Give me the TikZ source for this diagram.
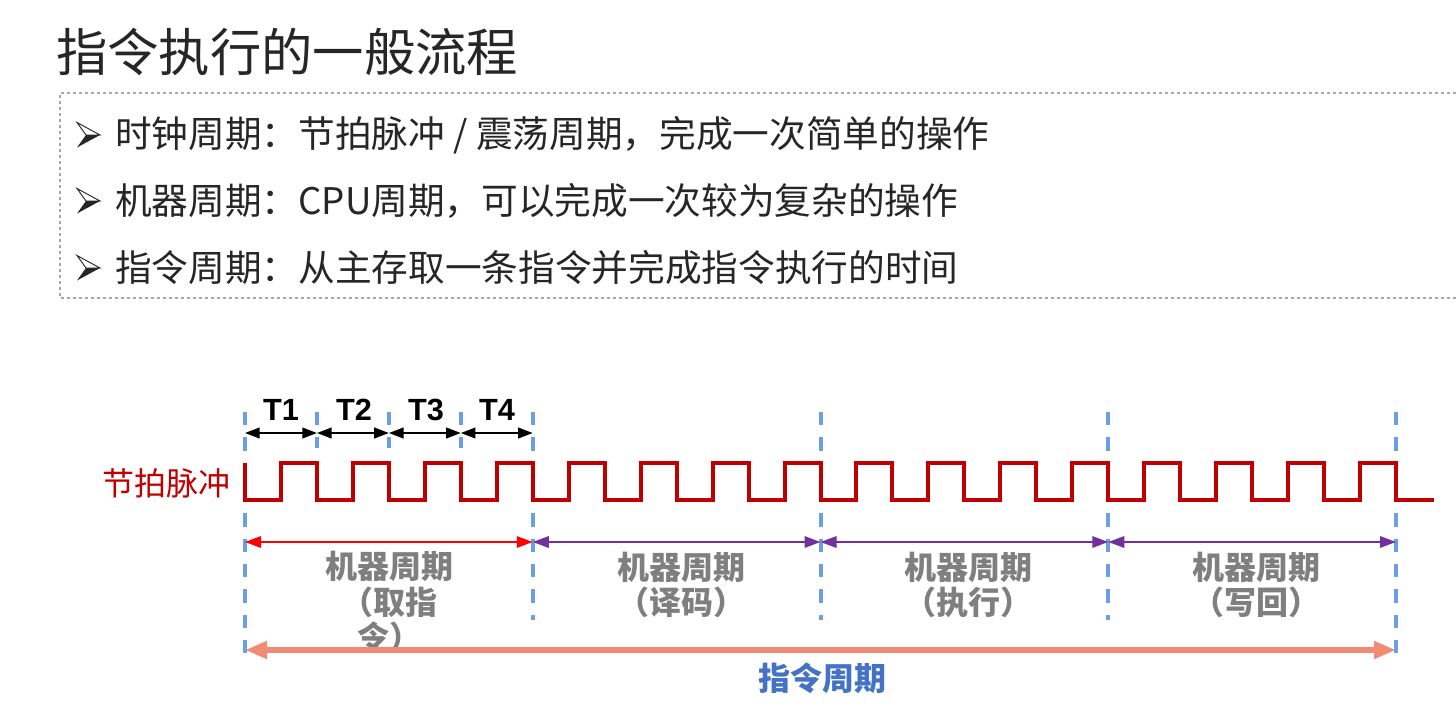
\documentclass[tikz,border=0pt]{standalone}
\usepackage{fontspec}
\setmainfont{Noto Sans CJK SC}
\newfontfamily\tfont{Liberation Sans}
\usetikzlibrary{arrows.meta}
\definecolor{ink}{HTML}{262626}
\definecolor{boxgray}{HTML}{A6A6A6}
\definecolor{pulsered}{HTML}{C00000}
\definecolor{dashblue}{HTML}{6A9EE6}
\definecolor{cycred}{HTML}{FF0000}
\definecolor{cycpurple}{HTML}{7030A0}
\definecolor{lblgray}{HTML}{7F7F7F}
\definecolor{salmon}{HTML}{F28B73}
\definecolor{instblue}{HTML}{4472C4}
\tikzset{
  boxline/.style={draw=boxgray, line width=1.5pt, dash pattern=on 2pt off 2.5pt},
  titletext/.style={anchor=west, inner sep=0pt, text=ink, font=\fontsize{38.5}{42}\selectfont},
  bullettext/.style={anchor=west, inner sep=0pt, text=ink, font=\fontsize{27.5}{30}\selectfont},
  guide/.style={draw=dashblue, line width=3pt, dash pattern=on 10pt off 9pt},
  pulse/.style={draw=pulsered, line width=3pt, line join=miter},
  tarrow/.style={draw=black, line width=1.5pt, arrows={Triangle[length=11pt,width=8pt]-Triangle[length=11pt,width=8pt]}},
  cycarrow/.style={line width=1.6pt, arrows={Triangle[length=12pt,width=8.5pt]-Triangle[length=12pt,width=8.5pt]}},
  instarrow/.style={draw=salmon, line width=4.3pt, arrows={Triangle[length=16.5pt,width=12.5pt]-Triangle[length=16.5pt,width=12.5pt]}},
  tlabel/.style={inner sep=0pt, font=\tfont\bfseries\fontsize{23}{24}\selectfont},
  cyclabel/.style={inner sep=0pt, align=center, text=lblgray, font=\bfseries\fontsize{24}{26.6}\selectfont},
}
\newcommand\bulletmark[1]{%
  \begin{scope}[shift={(0,#1)}]
    \filldraw[fill=white, draw=ink, line width=0.7pt, line join=miter] (77,-12.5) -- (100,0) -- (86,0) -- cycle;
    \fill[ink] (86,0) -- (100,0) -- (77,12.5) -- cycle;
  \end{scope}}
\begin{document}
\begin{tikzpicture}[x=0.75pt,y=-0.75pt]
\useasboundingbox (0,0) rectangle (1456,714);
\fill[white] (0,0) rectangle (1456,714);

% title
\node[titletext] (title) at (56,52) {指令执行的一般流程};

% dashed box
\draw[boxline] (1456,93) -- (60,93) -- (60,298) -- (1456,298);

% bullets
\bulletmark{135}
\bulletmark{201}
\bulletmark{268}
\node[bullettext] (b1) at (115,135) {时钟周期：节拍脉冲 / 震荡周期，完成一次简单的操作};
\node[bullettext] (b2) at (115,201) {机器周期：CPU周期，可以完成一次较为复杂的操作};
\node[bullettext] (b3) at (115,268) {指令周期：从主存取一条指令并完成指令执行的时间};

% timing geometry
\def\per{71.9375}
\foreach \k in {0,...,4}{\coordinate (t\k) at ({245+\k*\per},433);}
\foreach \k/\m in {0/0,1/4,2/8,3/12,4/16}{\coordinate (m\k) at ({245+\m*\per},542);}
\foreach \k in {1,2,3}{
  \coordinate (st\k) at ({245+\k*\per},412);
  \coordinate (sb\k) at ({245+\k*\per},448);}
\foreach \k/\m/\b in {0/0/658,1/4/620,2/8/620,3/12/620,4/16/658}{
  \coordinate (gt\k) at ({245+\m*\per},412);
  \coordinate (gb\k) at ({245+\m*\per},\b);}
\coordinate (i0) at (245,650);
\coordinate (i1) at (1396,650);

% guide lines
\foreach \k in {1,2,3}{\draw[guide] (st\k) -- (sb\k);}
\foreach \k in {0,...,4}{\draw[guide] (gt\k) -- (gb\k);}

% pulse label and waveform
\node[inner sep=0pt, text=pulsered, font=\fontsize{24}{26}\selectfont] (pl) at (166,483) {节拍脉冲};
\draw[pulse] (245,463) -- (245,500)
  \foreach \k in {0,...,15}{
    -- ({245+\k*\per+\per/2},500) -- ({245+\k*\per+\per/2},463)
    -- ({245+(\k+1)*\per},463) -- ({245+(\k+1)*\per},500)}
  -- (1434,500);

% T arrows and labels
\foreach \k [evaluate=\k as \n using int(\k+1)] in {0,...,3}{\draw[tarrow] (t\k) -- (t\n);}
\node[tlabel] (T1) at (281,410) {T1};
\node[tlabel] (T2) at (354,410) {T2};
\node[tlabel] (T3) at (426,410) {T3};
\node[tlabel] (T4) at (497,410) {T4};

% machine cycle arrows
\draw[cycarrow, draw=cycred] (m0) -- (m1);
\draw[cycarrow, draw=cycpurple] (m1) -- (m2);
\draw[cycarrow, draw=cycpurple] (m2) -- (m3);
\draw[cycarrow, draw=cycpurple] (m3) -- (m4);

\node[cyclabel] (c1) at (389,602) {机器周期\\（取指\\令）};
\node[cyclabel] (c2) at (681,585) {机器周期\\（译码）};
\node[cyclabel] (c3) at (968,585) {机器周期\\（执行）};
\node[cyclabel] (c4) at (1256,585) {机器周期\\（写回）};

% instruction cycle
\draw[instarrow] (i0) -- (i1);
\node[inner sep=0pt, text=instblue, font=\bfseries\fontsize{24}{26}\selectfont] (ic) at (822,678) {指令周期};
\end{tikzpicture}
\end{document}
